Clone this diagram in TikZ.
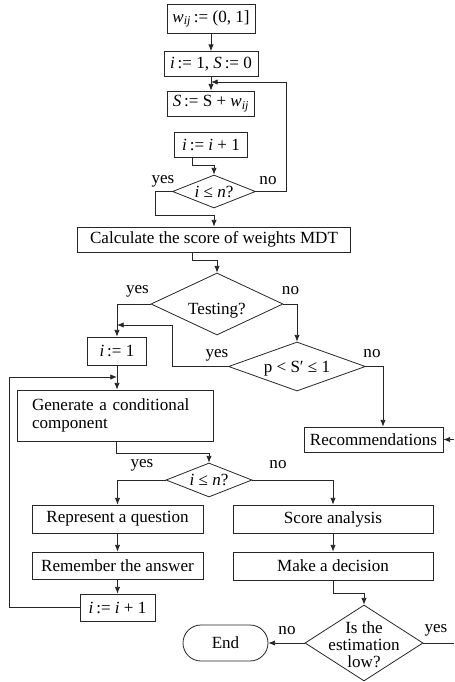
\documentclass[tikz,border=0pt]{standalone}
\usepackage{fontspec}
\setmainfont{Liberation Serif}
\usetikzlibrary{arrows.meta,shapes.geometric}
\newcommand\PX{0.75pt}
\newcommand\mi[1]{\textit{#1}}
\newcommand\dtext[2][-0.33em]{\makebox[0pt]{\smash{\raisebox{#1}{#2}}}}
\begin{document}
\begin{tikzpicture}[x=0.75pt,y=-0.75pt,
  every node/.style={font=\fontsize{12.8}{14.5}\selectfont, text=black},
  box/.style={draw=black!85, line width=0.6pt, rectangle, inner sep=0pt},
  dia/.style={draw=black!85, line width=0.6pt, diamond, inner sep=0pt},
  arr/.style={draw=black!85, line width=0.6pt, -{Latex[length=5pt,width=4pt]}},
  ln/.style={draw=black!85, line width=0.6pt},
  lab/.style={inner sep=0pt}]
\useasboundingbox (0,0) rectangle (454,682);

\node[box, minimum width=88*\PX, minimum height=29*\PX] (b1) at (211,19) {\mi{w}\textsubscript{\mi{ij}}\,:= (0, 1]};
\node[box, minimum width=94*\PX, minimum height=25*\PX] (b2) at (211,64) {\mi{i}\,:= 1, \mi{S}\,:= 0};
\node[box, minimum width=87*\PX, minimum height=25*\PX] (b3) at (211,103.5) {\mi{S}\,:= S + \mi{w}\textsubscript{\mi{ij}}};
\node[box, minimum width=73*\PX, minimum height=25*\PX] (b4) at (211,144.5) {\mi{i}\,:= \mi{i} + 1};
\node[dia, minimum width=83*\PX, minimum height=33*\PX] (d1) at (214,191.5) {\dtext{\mi{i} ≤ \mi{n}?}};
\node[box, minimum width=273*\PX, minimum height=25*\PX] (calc) at (214,239.5) {Calculate the score of weights MDT};
\node[dia, minimum width=132*\PX, minimum height=62*\PX] (d2) at (217,304) {\dtext[-8pt]{Testing?}};
\node[box, minimum width=59*\PX, minimum height=28*\PX] (i1) at (117,351) {\mi{i}\,:= 1};
\node[dia, minimum width=137*\PX, minimum height=49*\PX] (d3) at (297,366.5) {\dtext{p < S′ ≤ 1}};
\node[box, minimum width=139*\PX, minimum height=25*\PX] (rec) at (373.5,439.5) {Recommendations};
\node[box, minimum width=196*\PX, minimum height=51*\PX, text width=166*\PX, align=left, font=\fontsize{12.8}{13.5}\selectfont] (gen) at (115,415.5) {Generate a conditional\\component};
\node[dia, minimum width=86*\PX, minimum height=34*\PX] (d4) at (209,480) {\dtext{\mi{i} ≤ \mi{n}?}};
\node[box, minimum width=171*\PX, minimum height=28*\PX] (rep) at (117.5,519) {Represent a question};
\node[box, minimum width=171*\PX, minimum height=27*\PX] (rem) at (117.5,565.5) {Remember the answer};
\node[box, minimum width=75*\PX, minimum height=27*\PX] (i3) at (117.5,607.5) {\mi{i}\,:= \mi{i} + 1};
\node[box, minimum width=200*\PX, minimum height=28*\PX] (sc) at (333,519) {Score analysis};
\node[box, minimum width=200*\PX, minimum height=28*\PX] (dec) at (333,566) {Make a decision};
\node[dia, minimum width=118*\PX, minimum height=76*\PX] (d5) at (364,643) {\dtext[-6pt]{\def\arraystretch{0.85}\begin{tabular}{@{}c@{}}Is the\\estimation\\low?\end{tabular}}};
\node[box, rounded corners=13.5pt, minimum width=85*\PX, minimum height=36*\PX] (end) at (225.5,643) {End};

\node[lab] (l1) at (163,181) {yes};
\node[lab] (l2) at (268,181) {no};
\node[lab] (l3) at (137.5,291) {yes};
\node[lab] (l4) at (290.5,291) {no};
\node[lab] (l5) at (217,355) {yes};
\node[lab] (l6) at (372,354) {no};
\node[lab] (l7) at (142,465) {yes};
\node[lab] (l8) at (278,465) {no};
\node[lab] (l9) at (287,631) {no};
\node[lab] (l10) at (436,630) {yes};

\coordinate (j1) at (211,82);
\coordinate (j2) at (117,325);
\coordinate (j3) at (117,377);
\coordinate (r0) at (454,439.5);
\coordinate (r1) at (454,643);

\draw[arr] (b1) -- (b2);
\draw[arr] (b2) -- (b3);
\draw[arr] (d1.east) -- ++(30,0) |- (j1);
\draw[arr] ([xshift=-19*\PX]b4.south) -- ++(0,8) -| (d1.north);
\draw[arr] (d1.west) -- ++(-17,0) -- ++(0,23.5) -| (calc.north);
\draw[arr] ([xshift=-22*\PX]calc.south) -- ++(0,8) -| (d2.north);
\draw[arr] (d2.west) -| (i1.north);
\draw[arr] (d3.west) -- ++(-56,0) |- (j2);
\draw[arr] (d2.east) -| (d3.north);
\draw[arr] (d3.east) -| ([xshift=9.5*\PX]rec.north);
\draw[arr] (r0) -- (rec.east);
\draw[arr] (i1.south) -- (i1.south |- gen.north);
\draw[arr] (i3.west) -- ++(-70,0) |- (j3);
\draw[arr] ([xshift=1*\PX]gen.south) -- ++(0,12) -| (d4.north);
\draw[arr] (d4.west) -| (rep.north);
\draw[arr] (d4.east) -| (sc.north);
\draw[arr] (rep) -- (rem);
\draw[arr] (rem) -- (i3);
\draw[arr] (sc) -- (dec);
\draw[arr] (dec.south) -- ++(0,13) -| (d5.north);
\draw[arr] (d5.west) -- (end.east);
\draw[ln] (d5.east) -- (r1);
\end{tikzpicture}
\end{document}
